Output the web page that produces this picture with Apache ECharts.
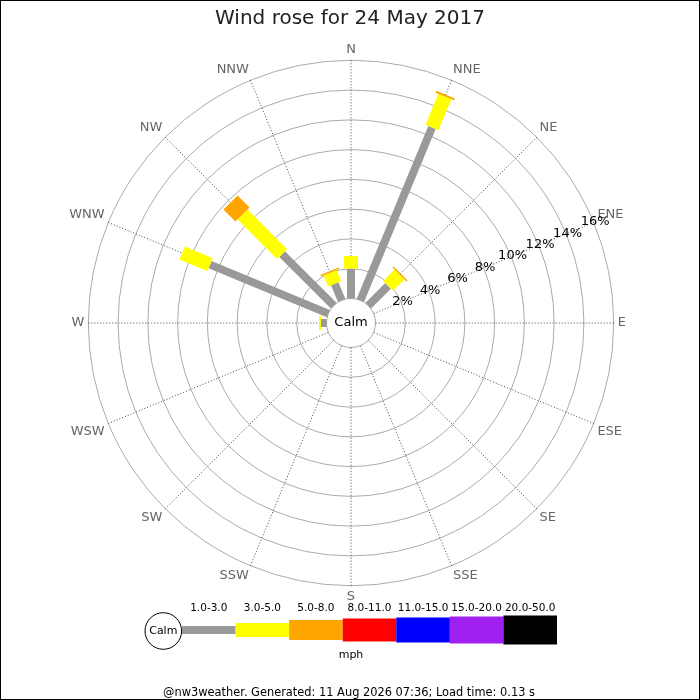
<!DOCTYPE html>
<html>
<head>
<meta charset="utf-8">
<script src="https://cdn.jsdelivr.net/npm/echarts@6/dist/echarts.min.js"></script>
<style>
  html, body { margin: 0; padding: 0; background: #fff; }
  #chart { width: 700px; height: 700px; box-sizing: border-box; border: 1px solid #000; }
</style>
</head>
<body>
<div id="chart"></div>
<script>
// compass directions, clockwise from north
const directions = ['N', 'NNE', 'NE', 'ENE', 'E', 'ESE', 'SE', 'SSE', 'S', 'SSW', 'SW', 'WSW', 'W', 'WNW', 'NW', 'NNW'];

// % of time per direction, for each speed band (mph)
const speed1to3 = [2.0, 12.57, 1.88, 0, 0, 0, 0, 0, 0, 0, 0, 0, 0.37, 8.6, 4.9, 1.21];
const speed3to5 = [0.85, 2.25, 1.08, 0, 0, 0, 0, 0, 0, 0, 0, 0, 0.13, 2.03, 3.76, 0.81];
const speed5to8 = [0, 0.14, 0.1, 0, 0, 0, 0, 0, 0, 0, 0, 0, 0, 0, 1.14, 0.1];

const speedBands = ['1.0-3.0', '3.0-5.0', '5.0-8.0', '8.0-11.0', '11.0-15.0', '15.0-20.0', '20.0-50.0'];
const bandColors = ['#999999', '#ffff00', '#ffa500', '#ff0000', '#0000ff', '#a020f0', '#000000'];
const bandWidths = [8, 14, 20, 23, 25, 27, 29];

// ring labels (% of time)
const ringTicks = [2, 4, 6, 8, 10, 12, 14, 16];

const radiusMax = 16;
const radiusStep = 2;
const sectorStep = 22.5;

const FONT = 'DejaVu Sans';

// angle axis starts at ENE so the % labels run along that spoke
const labelDir = 3;
const angleOf = (i) => ((i - labelDir + 16) % 16) * sectorStep;
const dirAt = (deg) => directions[(Math.round(deg / sectorStep) + labelDir) % 16];

const chart = echarts.init(document.getElementById('chart'));

function stackedItems(layers) {
  const out = layers.map(() => []);
  directions.forEach((d, i) => {
    let base = 0;
    layers.forEach((vals, k) => {
      const v = vals[i];
      if (v > 0) out[k].push([angleOf(i), base, base + v]);
      base += v;
    });
  });
  return out;
}

const stacks = stackedItems([speed1to3, speed3to5, speed5to8]);

function makeRoseSeries(k) {
  const w = bandWidths[k];
  return {
    type: 'custom',
    coordinateSystem: 'polar',
    dimensions: ['angle', 'start', 'end'],
    encode: { angle: 0, radius: [1, 2] },
    silent: true,
    renderItem(params, api) {
      const a = api.value(0);
      const p0 = api.coord([api.value(1), a]);
      const p1 = api.coord([api.value(2), a]);
      const q0 = api.coord([0, a]);
      const q1 = api.coord([radiusMax, a]);
      const len = Math.hypot(q1[0] - q0[0], q1[1] - q0[1]);
      const nx = -(q1[1] - q0[1]) / len * w / 2;
      const ny = (q1[0] - q0[0]) / len * w / 2;
      return {
        type: 'polygon',
        shape: {
          points: [
            [p0[0] + nx, p0[1] + ny],
            [p1[0] + nx, p1[1] + ny],
            [p1[0] - nx, p1[1] - ny],
            [p0[0] - nx, p0[1] - ny],
          ],
        },
        style: { fill: bandColors[k] },
      };
    },
    data: stacks[k],
  };
}

chart.setOption({
  animation: false,
  title: {
    text: 'Wind rose for 24 May 2017',
    left: 'center',
    top: 3,
    textStyle: { fontFamily: FONT, fontSize: 20, fontWeight: 'normal', color: '#222' },
  },
  polar: {
    center: [350, 322],
    radius: [24.5, 262.7],
  },
  angleAxis: {
    type: 'value',
    min: 0,
    max: 360,
    interval: sectorStep,
    startAngle: 22.5,
    clockwise: true,
    axisLine: { show: false },
    axisTick: { show: false },
    axisLabel: {
      color: '#666', fontFamily: FONT, fontSize: 13, margin: 4,
      formatter: (v) => (v >= 360 ? '' : dirAt(v)),
    },
    splitLine: { show: true, lineStyle: { color: '#444', width: 1, type: [1, 2] } },
  },
  radiusAxis: {
    type: 'value',
    min: 0,
    max: radiusMax,
    interval: radiusStep,
    axisLine: { show: false },
    axisTick: { show: false },
    axisLabel: { show: false },
    splitLine: { show: true, lineStyle: { color: '#aaa', width: 1 } },
  },
  grid: { left: 181, top: 614, width: 375, height: 30 },
  xAxis: {
    type: 'category',
    data: speedBands,
    position: 'top',
    axisLine: { show: false },
    axisTick: { show: false },
    axisLabel: { color: '#000', fontFamily: FONT, fontSize: 10.5, margin: 1, interval: 0 },
  },
  yAxis: { type: 'value', min: -1, max: 1, show: false },
  graphic: [
    {
      type: 'text', x: 350, y: 322, z: 10,
      style: { text: 'Calm', fill: '#000', font: '13px "DejaVu Sans"', align: 'center', verticalAlign: 'middle' },
    },
    {
      type: 'circle', shape: { cx: 162.3, cy: 630, r: 18.3 },
      style: { fill: '#fff', stroke: '#000', lineWidth: 1 },
    },
    {
      type: 'text', x: 162.3, y: 630,
      style: { text: 'Calm', fill: '#000', font: '11px "DejaVu Sans"', align: 'center', verticalAlign: 'middle' },
    },
    {
      type: 'text', x: 350, y: 654,
      style: { text: 'mph', fill: '#000', font: '11px "DejaVu Sans"', align: 'center', verticalAlign: 'middle' },
    },
    {
      type: 'text', x: 348, y: 692,
      style: {
        text: '@nw3weather. Generated: 11 Aug 2026 07:36; Load time: 0.13 s',
        fill: '#000', font: '11.4px "DejaVu Sans"', align: 'center', verticalAlign: 'middle',
      },
    },
  ],
  series: [
    makeRoseSeries(0),
    makeRoseSeries(1),
    makeRoseSeries(2),
    {
      // % labels along the ENE spoke
      type: 'custom',
      coordinateSystem: 'polar',
      silent: true,
      z: 5,
      renderItem(params, api) {
        const p = api.coord([api.value(0) + 0.1, angleOf(labelDir)]);
        return {
          type: 'text',
          x: p[0],
          y: p[1],
          style: {
            text: api.value(0) + '%',
            fill: '#000',
            font: '13px "DejaVu Sans"',
            align: 'center',
            verticalAlign: 'middle',
          },
        };
      },
      data: ringTicks.map((v) => [v, angleOf(labelDir)]),
    },
    {
      type: 'custom',
      coordinateSystem: 'cartesian2d',
      silent: true,
      renderItem(params, api) {
        const i = api.value(0);
        const c = api.coord([i, 0]);
        const bw = api.size([1, 0])[0];
        const h = bandWidths[i];
        return {
          type: 'rect',
          shape: { x: c[0] - bw / 2, y: c[1] - h / 2, width: bw, height: h },
          style: { fill: bandColors[i] },
        };
      },
      data: speedBands.map((b, i) => [i, 0]),
    },
  ],
});
</script>
</body>
</html>
